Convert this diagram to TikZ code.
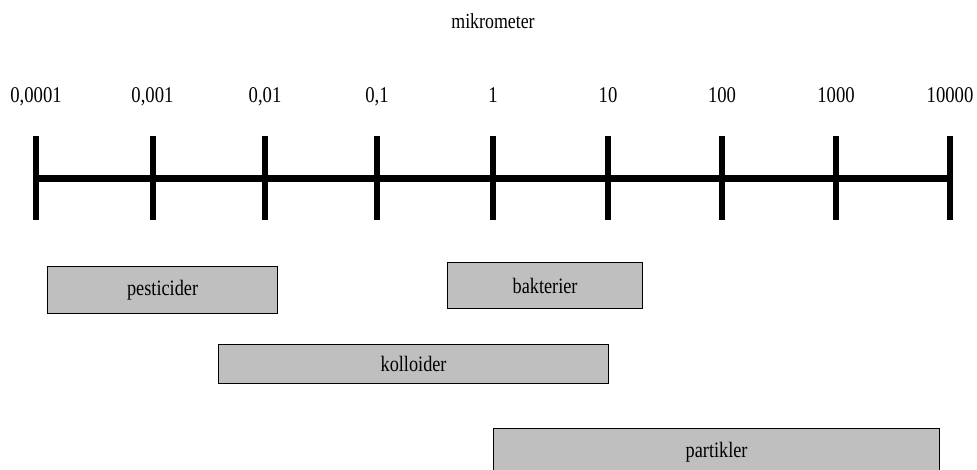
\documentclass[tikz,border=0pt]{standalone}
\usepackage{fontspec}
\setmainfont{Liberation Serif}
\newfontfamily\numfont[FakeStretch=0.83]{Liberation Serif}
\begin{document}
\begin{tikzpicture}[x=1pt,y=-1pt,
  axisline/.style={line width=6.5pt,black},
  tickline/.style={line width=6pt,black},
  ticklabel/.style={font=\numfont\fontsize{22.5}{22.5}\selectfont,inner sep=0pt,anchor=base},
  unitlabel/.style={font=\numfont\fontsize{21.5}{21.5}\selectfont,inner sep=0pt,anchor=base},
  rangebox/.style={draw=black,line width=1.2pt,fill=black!25,
    font=\numfont\fontsize{22}{22}\selectfont,inner sep=0pt,anchor=north west}
]
\useasboundingbox (0,0) rectangle (977,470);
\clip (0,0) rectangle (977,470);
\node[unitlabel] (unit) at (493,29) {mikrometer};
\foreach \i/\x/\lab in {0/36/{0,0001},1/152.5/{0,001},2/265/{0,01},3/377/{0,1},4/493/1,5/608/10,6/722/100,7/836/1000,8/950/10000}{
  \coordinate (t\i) at (\x,178.5);
  \coordinate (tt\i) at (\x,136);
  \coordinate (tb\i) at (\x,220);
  \node[ticklabel] (l\i) at (\x,103) {\lab};
  \draw[tickline] (tt\i) -- (tb\i);
}
\draw[axisline] (t0) -- (t8);
\node[rangebox,minimum width=230pt,minimum height=47pt] (pest) at (47,266) {pesticider};
\node[rangebox,minimum width=195pt,minimum height=46pt] (bakt) at (447,262) {bakterier};
\node[rangebox,minimum width=390pt,minimum height=39pt] (koll) at (218,344) {kolloider};
\node[rangebox,minimum width=446pt,minimum height=48pt] (part) at (493,428) {partikler};
\end{tikzpicture}
\end{document}
